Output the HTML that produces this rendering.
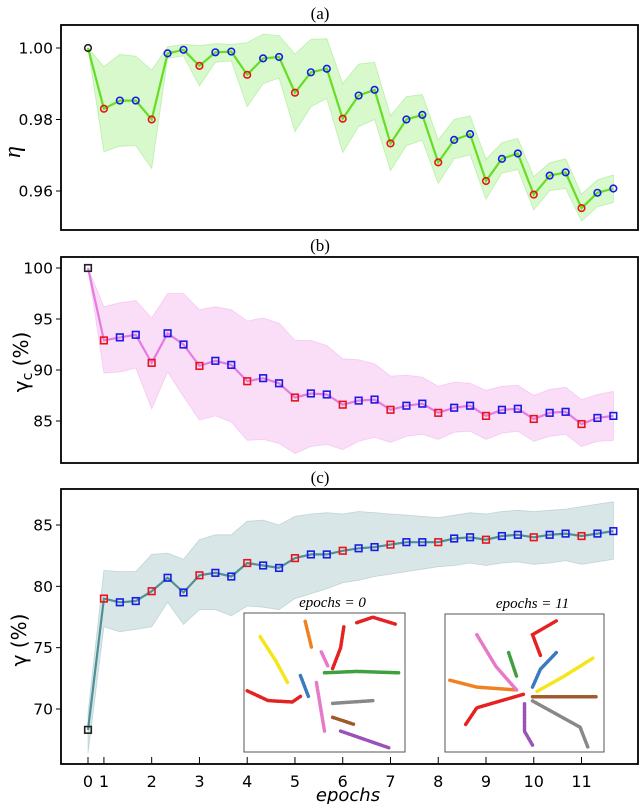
<!DOCTYPE html>
<html><head><meta charset="utf-8"><style>
html,body{margin:0;padding:0;background:#fff;}
svg{display:block;font-family:"DejaVu Sans","Liberation Sans",sans-serif;}
</style></head><body>
<svg id="chart" width="640" height="804" viewBox="0 0 640 804" xmlns="http://www.w3.org/2000/svg"></svg>
<script>
const etaVals=[1.000,0.983,0.9853,0.9853,0.980,0.9985,0.9995,0.995,0.9988,0.999,0.9925,0.9971,0.9975,0.9875,0.9932,0.9942,0.9802,0.9867,0.9883,0.9733,0.980,0.9813,0.968,0.9743,0.9759,0.9628,0.969,0.9705,0.959,0.9643,0.9652,0.9552,0.9595,0.9607];
const etaUp=[1.0,0.9948,0.9982,0.9977,0.9938,1.0003,1.001,1.0007,1.0012,1.001,1.0015,1.0039,1.0035,0.9983,1.0024,1.0026,0.990,0.9955,0.996,0.981,0.9864,0.987,0.9743,0.980,0.981,0.9689,0.9735,0.9747,0.964,0.9679,0.969,0.9591,0.9631,0.9645];
const etaLo=[1.0,0.971,0.9725,0.9727,0.9663,0.9971,0.9978,0.9894,0.996,0.9964,0.9836,0.990,0.9916,0.9766,0.9836,0.9859,0.9707,0.978,0.980,0.9657,0.9727,0.9742,0.9621,0.969,0.9701,0.9577,0.965,0.966,0.9547,0.9601,0.9607,0.9516,0.9556,0.9568];
const gcVals=[100,92.9,93.2,93.45,90.7,93.6,92.5,90.4,90.9,90.5,88.9,89.2,88.7,87.3,87.7,87.6,86.6,87.0,87.1,86.1,86.5,86.7,85.8,86.3,86.5,85.5,86.1,86.2,85.2,85.8,85.9,84.7,85.3,85.5];
const gcUp=[100,96.2,96.6,96.8,95.1,97.5,97.5,95.9,96.2,95.9,94.8,95.1,94.6,92.9,92.9,92.4,91.1,91.0,90.6,89.4,89.5,89.3,88.4,88.8,88.7,88.0,88.4,88.5,87.5,88.1,88.3,87.1,87.6,87.9];
const gcLo=[100,89.7,89.8,90.2,86.2,89.8,87.4,85.1,85.5,84.9,83.1,83.2,82.8,81.8,82.5,82.7,82.2,83.0,83.4,82.9,83.5,83.7,83.2,83.9,84.0,83.2,83.8,84.0,83.0,83.5,83.7,82.5,83.0,83.1];
const gVals=[68.3,79.0,78.7,78.8,79.6,80.7,79.5,80.9,81.1,80.8,81.9,81.7,81.5,82.3,82.6,82.6,82.9,83.1,83.2,83.4,83.6,83.6,83.6,83.9,84.0,83.8,84.1,84.2,84.0,84.2,84.3,84.1,84.3,84.5];
const gUp=[69.7,81.3,81.2,81.2,82.6,82.7,82.2,83.8,84.2,84.2,85.3,85.4,85.0,85.7,85.9,86.0,85.9,86.1,86.0,85.9,85.8,85.7,85.6,85.8,86.0,85.9,86.1,86.2,86.1,86.2,86.3,86.5,86.7,86.9];
const gLo=[66.4,76.7,76.3,76.5,76.7,78.7,76.9,78.1,78.1,77.6,78.4,78.3,78.1,79.0,79.4,79.8,80.3,80.5,80.8,81.0,81.2,81.4,81.6,81.7,81.9,81.7,81.9,82.0,81.8,81.9,82.1,81.8,82.0,82.2];
const xTickLabels=["0","1","2","3","4","5","6","7","8","9","10","11"];
const xTickIdx=[0,1,4,7,10,13,16,19,22,25,28,31];
const etaTicks=[1.00,0.98,0.96];
const gcTicks=[100,95,90,85];
const gTicks=[85,80,75,70];

const NS="http://www.w3.org/2000/svg";
const svg=document.getElementById('chart');
function mk(tag,attrs,parent){const e=document.createElementNS(NS,tag);for(const k in attrs)e.setAttribute(k,attrs[k]);(parent||svg).appendChild(e);return e;}
const xScale=i=>88+i*15.92;

function panel(cfg){
  const g=mk('g',{});
  
  
  const y=v=>cfg.y0+(v-cfg.v0)*(cfg.y1-cfg.y0)/(cfg.v1-cfg.v0);
  let d='';
  cfg.up.forEach((v,i)=>{d+=(i?'L':'M')+xScale(i).toFixed(1)+','+y(v).toFixed(1);});
  for(let i=cfg.lo.length-1;i>=0;i--)d+='L'+xScale(i).toFixed(1)+','+y(cfg.lo[i]).toFixed(1);
  const band=mk('path',{d:d+'Z',fill:cfg.band,stroke:cfg.bandStroke,'stroke-width':0.8},g);
  
  
  const pts=cfg.vals.map((v,i)=>xScale(i).toFixed(1)+','+y(v).toFixed(1)).join(' ');
  const line=mk('polyline',{points:pts,fill:'none',stroke:cfg.line,'stroke-width':2.2},g);
  
  
  cfg.vals.forEach((v,i)=>{
    const col=i===0?'#222':(i%3===1?'#e8141c':'#1a1ae6');
    let m;
    if(cfg.marker==='circle'){m=mk('circle',{cx:xScale(i),cy:y(v),r:3.3,fill:'none',stroke:col,'stroke-width':1.6},g);}
    else{m=mk('rect',{x:xScale(i)-3.3,y:y(v)-3.3,width:6.6,height:6.6,fill:'none',stroke:col,'stroke-width':1.6},g);}
    
    
  });
  const fr=mk('rect',{x:61,y:cfg.top,width:577,height:cfg.bot-cfg.top,fill:'none',stroke:'#000','stroke-width':1.8},g);
  
  
  cfg.ticks.forEach(t=>{
    mk('line',{x1:56,x2:61,y1:y(t),y2:y(t),stroke:'#000','stroke-width':1},g);
    const tx=mk('text',{x:53,y:y(t)+5.5,'text-anchor':'end','font-size':15.5,fill:'#000'},g);
    tx.textContent=cfg.fmt(t);
    
    
  });
  const ti=mk('text',{x:320,y:cfg.top-6,'text-anchor':'middle','font-size':17,'font-family':'Liberation Serif, serif'},g);
  ti.textContent=cfg.title;
  
  
  return y;
}

panel({name:'panel-a',vals:etaVals,up:etaUp,lo:etaLo,v0:1.0,y0:48,v1:0.96,y1:191,top:25,bot:230,ticks:etaTicks,fmt:t=>t.toFixed(2),band:'rgba(144,238,110,0.35)',bandStroke:'rgba(120,220,90,0.4)',line:'#66dd22',marker:'circle',title:'(a)'});
panel({name:'panel-b',vals:gcVals,up:gcUp,lo:gcLo,v0:100,y0:268,v1:85,y1:421,top:257,bot:463,ticks:gcTicks,fmt:t=>String(t),band:'rgba(240,160,235,0.35)',bandStroke:'rgba(235,150,230,0.4)',line:'#e57be0',marker:'square',title:'(b)'});
panel({name:'panel-c',vals:gVals,up:gUp,lo:gLo,v0:85,y0:525,v1:70,y1:709,top:489,bot:764,ticks:gTicks,fmt:t=>String(t),band:'rgba(170,200,205,0.45)',bandStroke:'rgba(150,185,190,0.5)',line:'#4d9095',marker:'square',title:'(c)'});

xTickIdx.forEach((ix,k)=>{
  const x=xScale(ix);
  mk('line',{x1:x,x2:x,y1:757,y2:764,stroke:'#000','stroke-width':1});
  const t=mk('text',{x:x,y:787,'text-anchor':'middle','font-size':16});
  t.textContent=xTickLabels[k];
  
  
});

function label(txt,x,y,rot,size,italic,name,serif){
  const t=mk('text',{x:x,y:y,'text-anchor':'middle','font-size':size,transform:rot?`rotate(-90 ${x} ${y})`:'', 'font-style':italic?'italic':'normal'});
  if(serif)t.setAttribute('font-family','Liberation Serif, serif');
  t.textContent=txt;
  
  
  return t;
}
label('η',20,152,true,24,true,'y-axis-title-eta',true);
const tb=label('',28,362,true,20,false,'y-axis-title-gamma-c');
tb.innerHTML='γ<tspan font-size="14" dy="4">c</tspan><tspan dy="-4"> (%)</tspan>';
label('γ  (%)',26,640,true,20,false,'y-axis-title-gamma');
label('epochs',348,801,false,18,true,'x-axis-title');

function inset(x0,y0,w,h,title,arms,name){
  const g=mk('g',{});
  
  
  mk('rect',{x:x0,y:y0,width:w,height:h,fill:'#fff',stroke:'#555','stroke-width':1},g);
  const t=mk('text',{x:x0+w/2+8,y:y0-6,'text-anchor':'middle','font-size':15,'font-style':'italic','font-family':'Liberation Serif, serif'},g);
  t.textContent=title;
  arms.forEach(a=>{
    const p=a[1].map(q=>(x0+q[0]*w).toFixed(1)+','+(y0+q[1]*h).toFixed(1)).join(' ');
    mk('polyline',{points:p,fill:'none',stroke:a[0],'stroke-width':3.5,'stroke-dasharray':'2 1.5','stroke-linecap':'round'},g);
  });
}
inset(244,613,161,139,'epochs = 0',[
 ['#e52222',[[0.02,0.56],[0.15,0.63],[0.3,0.64],[0.35,0.6]]],
 ['#e52222',[[0.7,0.07],[0.8,0.03],[0.94,0.08]]],
 ['#e52222',[[0.62,0.1],[0.6,0.25],[0.55,0.4]]],
 ['#f5e61a',[[0.1,0.17],[0.2,0.35],[0.27,0.5]]],
 ['#f08020',[[0.38,0.06],[0.42,0.25]]],
 ['#e67ac8',[[0.48,0.28],[0.52,0.38]]],
 ['#40a040',[[0.5,0.43],[0.7,0.42],[0.96,0.43]]],
 ['#888',[[0.55,0.65],[0.8,0.63]]],
 ['#9b52b8',[[0.6,0.85],[0.9,0.97]]],
 ['#a05a2c',[[0.55,0.75],[0.68,0.8]]],
 ['#3a7ac0',[[0.35,0.45],[0.4,0.6]]],
 ['#e67ac8',[[0.45,0.5],[0.5,0.85]]]
],'inset-epochs-0');
inset(445,614,159,138,'epochs = 11',[
 ['#f08020',[[0.03,0.48],[0.2,0.53],[0.45,0.55]]],
 ['#e52222',[[0.13,0.8],[0.2,0.68],[0.35,0.63],[0.5,0.58]]],
 ['#e52222',[[0.6,0.3],[0.55,0.15],[0.7,0.05]]],
 ['#e67ac8',[[0.2,0.15],[0.32,0.38],[0.45,0.55]]],
 ['#40a040',[[0.4,0.28],[0.45,0.45]]],
 ['#3a7ac0',[[0.7,0.28],[0.6,0.4],[0.55,0.53]]],
 ['#f5e61a',[[0.93,0.32],[0.75,0.45],[0.58,0.56]]],
 ['#a05a2c',[[0.55,0.6],[0.95,0.6]]],
 ['#888',[[0.55,0.63],[0.85,0.82],[0.9,0.97]]],
 ['#9b52b8',[[0.5,0.65],[0.5,0.85],[0.55,0.95]]]
],'inset-epochs-11');
</script>
</body></html>
